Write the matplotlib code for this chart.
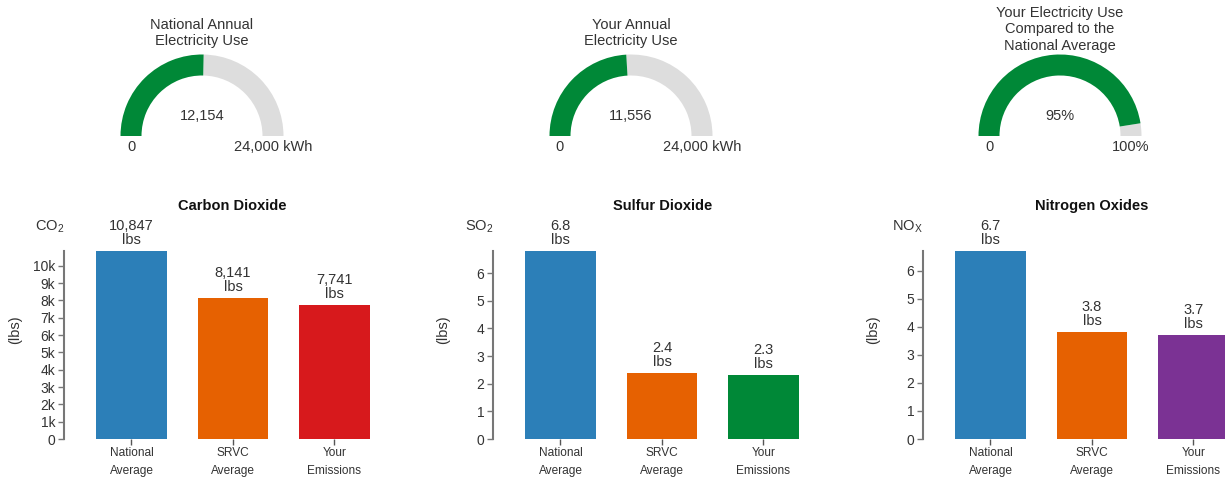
import matplotlib
matplotlib.use('Agg')
import matplotlib.pyplot as plt
from matplotlib.patches import Wedge
from matplotlib.ticker import FixedLocator, FuncFormatter

plt.rcParams['font.family'] = ['Liberation Sans', 'DejaVu Sans']
plt.rcParams['mathtext.fontset'] = 'custom'
plt.rcParams['mathtext.rm'] = 'Liberation Sans'
plt.rcParams['mathtext.it'] = 'Liberation Sans:italic'
plt.rcParams['mathtext.bf'] = 'Liberation Sans:bold'

# ---------------- data ----------------
gauge_titles = [["National Annual", "Electricity Use"],
                ["Your Annual", "Electricity Use"],
                ["Your Electricity Use", "Compared to the", "National Average"]]
gauge_values = [12154, 11556, 95]
gauge_max = [24000, 24000, 100]
gauge_value_labels = ["12,154", "11,556", "95%"]
gauge_min_labels = ["0", "0", "0"]
gauge_max_labels = ["24,000 kWh", "24,000 kWh", "100%"]

categories = ["National\nAverage", "SRVC\nAverage", "Your\nEmissions"]
chart_titles = ["Carbon Dioxide", "Sulfur Dioxide", "Nitrogen Oxides"]
chart_units = [r"CO$_\mathrm{2}$", r"SO$_\mathrm{2}$", r"NO$_\mathrm{X}$"]
co2_values = [10847, 8141, 7741]
so2_values = [6.8, 2.4, 2.3]
nox_values = [6.7, 3.8, 3.7]
co2_labels = ["10,847", "8,141", "7,741"]
so2_labels = ["6.8", "2.4", "2.3"]
nox_labels = ["6.7", "3.8", "3.7"]
co2_ticks = [0, 1000, 2000, 3000, 4000, 5000, 6000, 7000, 8000, 9000, 10000]
so2_ticks = [0, 1, 2, 3, 4, 5, 6]
nox_ticks = [0, 1, 2, 3, 4, 5, 6]

# ---------------- styles ----------------
W, H, DPI = 1225, 486, 100
TXT = '#333333'
GREEN = '#008837'
GREY = '#dddddd'
bar_colors = [
    ['#2c7fb8', '#e66101', '#d7191c'],
    ['#2c7fb8', '#e66101', '#008837'],
    ['#2c7fb8', '#e66101', '#7b3294'],
]

fig = plt.figure(figsize=(W / DPI, H / DPI), dpi=DPI)
ov = fig.add_axes([0, 0, 1, 1])
ov.set_xlim(0, W)
ov.set_ylim(0, H)
ov.axis('off')

# ---------------- gauges ----------------
g_cx = [202, 631, 1060]
g_cy = 136
r_out, g_w = 81.5, 21
title_ys = [[25, 41], [25, 41], [13, 29.5, 46]]
for i in range(3):
    cx, cy = g_cx[i], H - g_cy
    frac = gauge_values[i] / gauge_max[i]
    split = 180 - 180 * frac
    ov.add_patch(Wedge((cx, cy), r_out, 0, split, width=g_w, color=GREY, lw=0))
    ov.add_patch(Wedge((cx, cy), r_out, split, 180, width=g_w, color=GREEN, lw=0))
    for line, y in zip(gauge_titles[i], title_ys[i]):
        ov.text(cx, H - y, line, ha='center', va='center', fontsize=10.5, color=TXT)
    ov.text(cx, H - 116, gauge_value_labels[i], ha='center', va='center', fontsize=10.5, color=TXT)
    ov.text(cx - r_out + g_w / 2, H - 147, gauge_min_labels[i], ha='center', va='center',
            fontsize=10.5, color=TXT)
    ov.text(cx + r_out - g_w / 2, H - 147, gauge_max_labels[i], ha='center', va='center',
            fontsize=10.5, color=TXT)

# ---------------- bar charts ----------------
ax_left = [64, 493, 923]
ax_bottom, ax_top = 439, 251
step_px = 101.5
x0 = -0.665
nunits = 3.33
series = [co2_values, so2_values, nox_values]
labels = [co2_labels, so2_labels, nox_labels]
ticks = [co2_ticks, so2_ticks, nox_ticks]
title_x = [232, 663, 1092]
lbs_x = [15, 443, 873]

def kfmt(v, pos):
    return "0" if v == 0 else f"{int(v / 1000)}k"

for j in range(3):
    left = ax_left[j]
    ax = fig.add_axes([left / W, (H - ax_bottom) / H, nunits * step_px / W,
                       (ax_bottom - ax_top) / H])
    vals = series[j]
    xs = list(range(len(categories)))
    ax.bar(xs, vals, width=0.69, color=bar_colors[j], lw=0)
    ax.set_xlim(x0, x0 + nunits)
    ax.set_ylim(0, max(vals))
    ax.set_xticks(xs)
    ax.set_xticklabels(categories, fontsize=8.6, color=TXT, linespacing=1.65)
    ax.yaxis.set_major_locator(FixedLocator(ticks[j]))
    if j == 0:
        ax.yaxis.set_major_formatter(FuncFormatter(kfmt))
    else:
        ax.yaxis.set_major_formatter(FuncFormatter(lambda v, p: f"{int(v)}"))
    for s in ['top', 'right', 'bottom']:
        ax.spines[s].set_visible(False)
    ax.spines['left'].set_color('#777777')
    ax.spines['left'].set_linewidth(1.5)
    ax.tick_params(axis='y', length=4.3, width=1, color='#777777', pad=2,
                   labelsize=10, labelcolor=TXT)
    ax.tick_params(axis='x', length=4, width=1, color='#555555', pad=2)
    ax.set_facecolor('none')
    for i, v in enumerate(vals):
        ax.annotate(labels[j][i], (i, v), xytext=(0, 25), textcoords='offset pixels',
                    ha='center', va='center', fontsize=10.5, color=TXT)
        ax.annotate("lbs", (i, v), xytext=(0, 11), textcoords='offset pixels',
                    ha='center', va='center', fontsize=10.5, color=TXT)
    ov.text(title_x[j], H - 206, chart_titles[j], ha='center', va='center',
            fontsize=10.5, fontweight='bold', color='#111111')
    ov.text(left, H - 231, chart_units[j], ha='right', va='baseline',
            fontsize=10.5, color=TXT)
    ov.text(lbs_x[j], H - 330, "(lbs)", ha='center', va='center', rotation=90,
            fontsize=10.5, color=TXT)

fig.savefig('out.png', dpi=DPI)
